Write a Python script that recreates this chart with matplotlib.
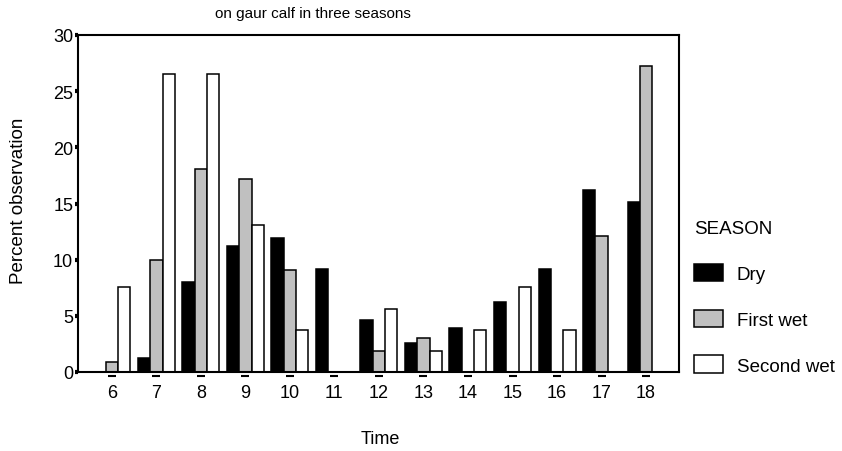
import numpy as np
import matplotlib
matplotlib.use("Agg")
from matplotlib import pyplot as plt

# percent observation per hour
hours = [6, 7, 8, 9, 10, 11, 12, 13, 14, 15, 16, 17, 18]
dry = [0, 1.25, 8.0, 11.2, 11.9, 9.2, 4.6, 2.6, 3.9, 6.2, 9.2, 16.2, 15.1]
first_wet = [0.9, 10.0, 18.1, 17.2, 9.1, 0, 1.9, 3.0, 0, 0, 0, 12.1, 27.2]
second_wet = [7.6, 26.5, 26.5, 13.1, 3.7, 0, 5.6, 1.9, 3.7, 7.6, 3.7, 0, 0]
season_labels = ["Dry", "First wet", "Second wet"]
yticks = [0, 5, 10, 15, 20, 25, 30]

plt.rcParams['font.family'] = ['Liberation Sans', 'DejaVu Sans']

fig = plt.figure(figsize=(8.42, 4.52), dpi=100)
ax = fig.add_axes([78/842, 1-373/452, (679-78)/842, (373-36)/452])

x = np.array(hours)
w = 0.277
series = [dry, first_wet, second_wet]
colors = ["black", "#c0c0c0", "white"]
bars = []
for i, (vals, c) in enumerate(zip(series, colors)):
    b = ax.bar(x + (i-1)*w, vals, w, color=c, edgecolor="black", linewidth=1.1)
    bars.append(b)

ax.set_xlim(5.24, 18.74)
ax.set_ylim(0, 30)
ax.set_yticks(yticks)
ax.set_yticklabels([str(t) for t in yticks], fontsize=13)
ax.tick_params(axis='y', direction='out', length=2.5, width=3, pad=1)
ax.set_xticks(hours)
ax.set_xticklabels([str(h) for h in hours], fontsize=13)
ax.tick_params(axis='x', length=0, pad=9)
# little dashes under each hour
ax.plot(x, np.full(len(x), -0.012), ls='none', marker='_', ms=6, mew=1.5,
        color='black', transform=ax.get_xaxis_transform(), clip_on=False)
for s in ax.spines.values():
    s.set_linewidth(1.5)

fig.text(313/842, 1-14/452, "on gaur calf in three seasons", fontsize=11,
         ha='center', va='center')
fig.text(19/842, 1-201/452, "Percent observation", fontsize=13.5,
         rotation=90, ha='center', va='center')
fig.text(380/842, 1-440/452, "Time", fontsize=13, ha='center', va='center')

leg = fig.legend(bars, season_labels, title="SEASON", loc='upper left',
                 bbox_to_anchor=(685/842, 1-212/452), frameon=False,
                 fontsize=13.5, title_fontsize=13.5, alignment='left',
                 borderpad=0, handlelength=1.55, handleheight=1.05,
                 labelspacing=1.42, handletextpad=0.7)

fig.savefig("out.png", dpi=100)
